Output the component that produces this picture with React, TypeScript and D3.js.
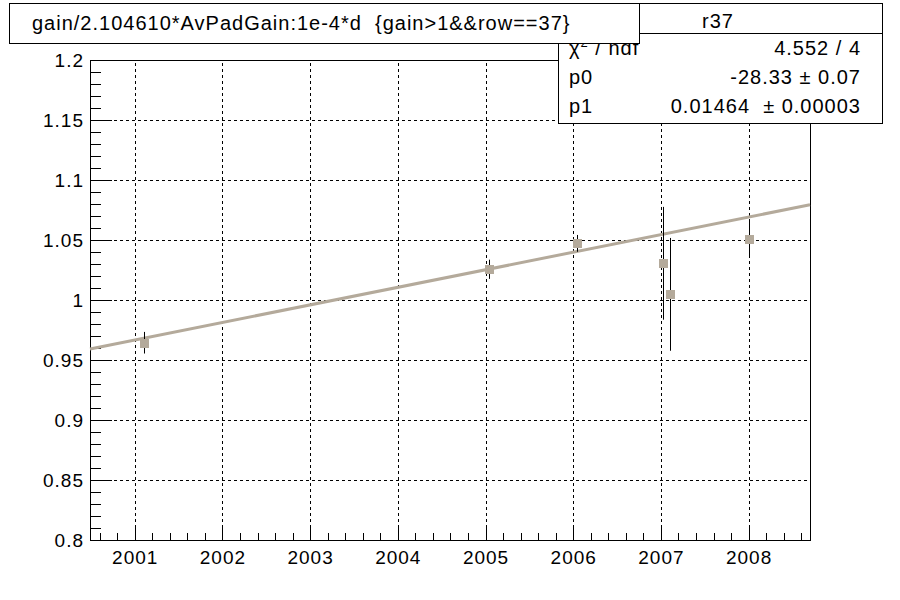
import * as React from 'react';
import * as d3 from 'd3';

// gain vs date (1e-4*d), row 37
const years = [2001.11, 2005.04, 2006.04, 2007.02, 2007.1, 2008.0];
const gains = [0.9644, 1.0256, 1.0472, 1.0306, 1.0047, 1.0506];
const gainErrs = [0.009, 0.008, 0.007, 0.047, 0.047, 0.015];

const xTicks = [2001, 2002, 2003, 2004, 2005, 2006, 2007, 2008];
const yTicks = [0.8, 0.85, 0.9, 0.95, 1, 1.05, 1.1, 1.15, 1.2];

// linear fit pol1
const fitP0 = -28.328;
const fitP1 = 0.01464;

const titleText = 'gain/2.104610*AvPadGain:1e-4*d  {gain>1&&row==37}';
const statName = 'r37';
const statLabels = ['p0', 'p1'];
const statValues = ['4.552 / 4', '-28.33 \u00b1 0.07', '0.01464  \u00b1 0.00003'];

const W = 900;
const H = 600;
const font = "'Liberation Sans', Arial, Helvetica, sans-serif";
const markColor = '#b4aa9b';

const App: React.FC = () => {
    const ref = React.useRef<SVGSVGElement>(null);

    React.useEffect(() => {
        const svg = d3.select(ref.current);
        svg.selectAll('*').remove();

        const left = 90, right = 810, top = 60, bottom = 540;
        const x = d3.scaleLinear().domain([2000.49, 2008.7]).range([left, right]);
        const y = d3.scaleLinear().domain([0.8, 1.2]).range([bottom, top]);

        svg.append('rect').attr('width', W).attr('height', H).attr('fill', 'white');

        // grid
        const grid = svg.append('g').attr('stroke', 'black').attr('stroke-width', 1)
            .attr('stroke-dasharray', '3,3').attr('shape-rendering', 'crispEdges');
        grid.selectAll('line.gx').data(xTicks).enter().append('line')
            .attr('x1', d => Math.round(x(d)) + 0.5).attr('x2', d => Math.round(x(d)) + 0.5)
            .attr('y1', bottom).attr('y2', top);
        grid.selectAll('line.gy').data(yTicks.slice(1, -1)).enter().append('line')
            .attr('x1', left).attr('x2', right)
            .attr('y1', d => Math.round(y(d)) + 0.5).attr('y2', d => Math.round(y(d)) + 0.5);

        // frame
        svg.append('rect').attr('x', left + 0.5).attr('y', top + 0.5)
            .attr('width', right - left).attr('height', bottom - top)
            .attr('fill', 'none').attr('stroke', 'black').attr('shape-rendering', 'crispEdges');

        // ticks
        const ticks = svg.append('g').attr('stroke', 'black').attr('shape-rendering', 'crispEdges');
        const xMinor = d3.range(Math.ceil(x.domain()[0] / 0.2) * 0.2, x.domain()[1], 0.2);
        ticks.selectAll('line.xm').data(xMinor).enter().append('line')
            .attr('x1', d => Math.round(x(d)) + 0.5).attr('x2', d => Math.round(x(d)) + 0.5)
            .attr('y1', bottom).attr('y2', d => {
                const major = Math.abs(d - Math.round(d)) < 1e-6;
                return bottom - (major ? 14.4 : 7.2);
            });
        const yMinor = d3.range(0.8, 1.2001, 0.01);
        ticks.selectAll('line.ym').data(yMinor).enter().append('line')
            .attr('y1', d => Math.round(y(d)) + 0.5).attr('y2', d => Math.round(y(d)) + 0.5)
            .attr('x1', left).attr('x2', (d, i) => left + (i % 5 === 0 ? 21.6 : 10.8));

        // tick labels
        svg.append('g').selectAll('text').data(xTicks).enter().append('text')
            .attr('x', d => x(d) + 0.5).attr('y', bottom + 24)
            .attr('text-anchor', 'middle').attr('font-family', font).attr('font-size', 19)
            .attr('letter-spacing', 1)
            .text(d => String(d));
        svg.append('g').selectAll('text').data(yTicks).enter().append('text')
            .attr('x', left - 6).attr('y', d => y(d) + 6.5)
            .attr('text-anchor', 'end').attr('font-family', font).attr('font-size', 19)
            .attr('letter-spacing', 1)
            .text(d => String(+d.toFixed(2)));

        // fit line
        const fx = x.domain();
        svg.append('path')
            .attr('d', d3.line<number>().x(d => x(d)).y(d => y(fitP0 + fitP1 * d))(fx))
            .attr('stroke', markColor).attr('stroke-width', 3).attr('fill', 'none');

        // points with error bars
        const pts = svg.append('g');
        pts.selectAll('line').data(years).enter().append('line')
            .attr('x1', d => Math.round(x(d)) + 0.5).attr('x2', d => Math.round(x(d)) + 0.5)
            .attr('y1', (d, i) => y(gains[i] - gainErrs[i]))
            .attr('y2', (d, i) => y(gains[i] + gainErrs[i]))
            .attr('stroke', 'black').attr('stroke-width', 1);
        pts.selectAll('rect').data(years).enter().append('rect')
            .attr('x', d => Math.round(x(d)) - 4).attr('y', (d, i) => Math.round(y(gains[i])) - 4)
            .attr('width', 9).attr('height', 9).attr('fill', markColor);

        // stats box
        const sb = svg.append('g').attr('font-family', font).attr('font-size', 20)
            .attr('letter-spacing', 1);
        sb.append('rect').attr('x', 558.5).attr('y', 3.5).attr('width', 324).attr('height', 120)
            .attr('fill', 'white').attr('stroke', 'black').attr('shape-rendering', 'crispEdges');
        sb.append('line').attr('x1', 558).attr('x2', 882).attr('y1', 33.5).attr('y2', 33.5)
            .attr('stroke', 'black').attr('shape-rendering', 'crispEdges');
        sb.append('text').attr('x', 718).attr('y', 28).attr('text-anchor', 'middle').text(statName);
        const chi = sb.append('text').attr('x', 569).attr('y', 55);
        chi.append('tspan').text('\u03c7');
        chi.append('tspan').attr('font-size', 13).attr('dy', -8).text('2');
        chi.append('tspan').attr('dy', 8).text(' / ndf');
        sb.selectAll('text.lab').data(statLabels).enter().append('text')
            .attr('x', 569).attr('y', (d, i) => 84 + i * 29).text(d => d);
        sb.selectAll('text.val').data(statValues).enter().append('text')
            .attr('x', 861).attr('y', (d, i) => 55 + i * 29)
            .attr('text-anchor', 'end').style('white-space', 'pre').text(d => d);

        // title box
        const tb = svg.append('g');
        tb.append('rect').attr('x', 9.5).attr('y', 3.5).attr('width', 630).attr('height', 40)
            .attr('fill', 'white').attr('stroke', 'black').attr('shape-rendering', 'crispEdges');
        tb.append('text').attr('x', 32).attr('y', 30).attr('font-family', font).attr('font-size', 20)
            .attr('letter-spacing', 1)
            .style('white-space', 'pre').text(titleText);
    }, []);

    return (
        <svg ref={ref} width={W} height={H}
            style={{ position: 'fixed', left: 0, top: 0, display: 'block' }} />
    );
};

export default App;
